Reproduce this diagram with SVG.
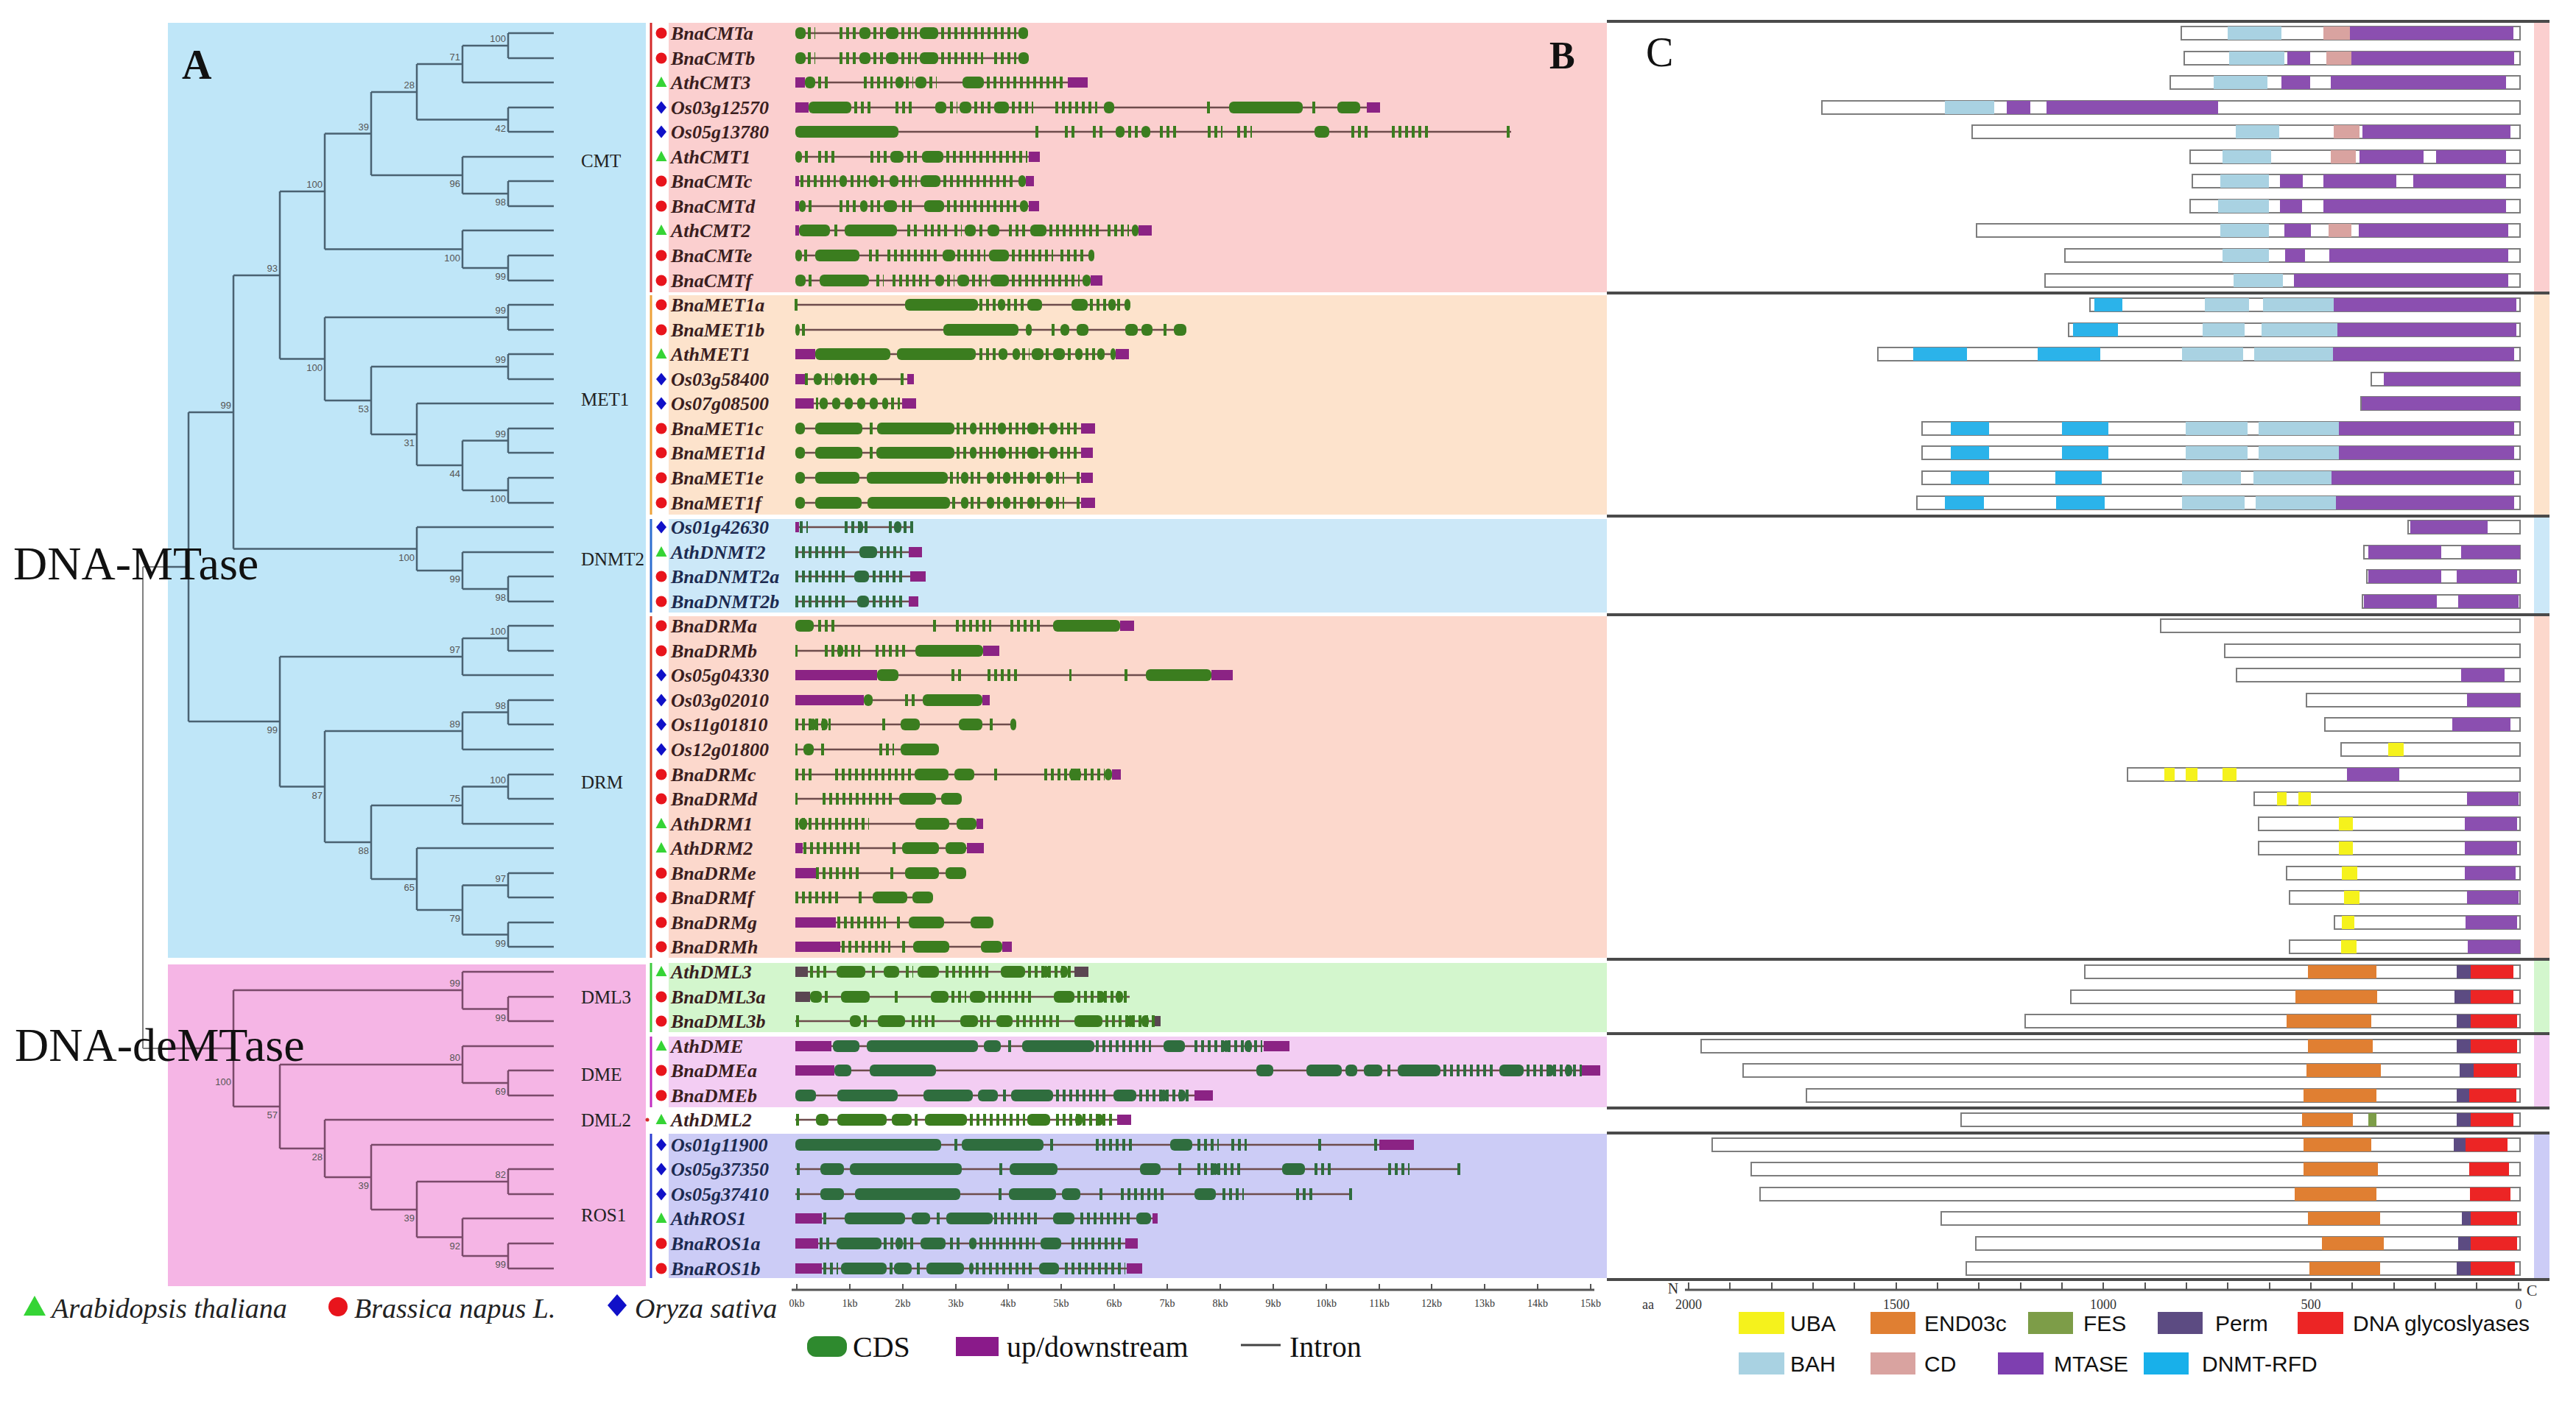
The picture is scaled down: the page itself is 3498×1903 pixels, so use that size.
<svg xmlns="http://www.w3.org/2000/svg" width="3498" height="1903" viewBox="0 0 3498 1903">
<style>
text{font-family:"Liberation Serif","Times New Roman",serif}
.tr{fill:none;stroke:#4a6272;stroke-width:2.5}
.tp{fill:none;stroke:#7a4a6a;stroke-width:2.5}
.tg{fill:none;stroke:#808080;stroke-width:2}
.bs{font-family:"Liberation Sans",Arial,sans-serif;font-size:13px;fill:#555;text-anchor:end}
.gl{font-size:25px;fill:#222}
.nm{font-style:italic;font-weight:bold;font-size:26px;fill:#3a1e1e}
.nb{fill:#1c2a50}
.gs{color:#3b7d1f}
.gd{color:#2f6d3e}
.gs rect{fill:currentColor}
.gs .u{fill:#8b2384}
.gs .v{fill:#5b4652}
.gs .i{stroke:#6e4c4c;stroke-width:2.5}
.gs .t{fill:none;stroke:currentColor;stroke-width:16;stroke-dasharray:4 5}
.pb{fill:#fff;stroke:#7d7d7d;stroke-width:2}
.MT{fill:#8b4fb0}.BAH{fill:#a9d2e2}.CD{fill:#d9a3a0}.RFD{fill:#2bb3ea}.UBA{fill:#f5f21c}.END{fill:#e07f32}.FES{fill:#7d9d48}.PRM{fill:#5c4b82}.DG{fill:#ec2525}
.sep{stroke:#4a4a4a;stroke-width:4}
.ax{stroke:#555;stroke-width:3}
.tk{stroke:#555;stroke-width:2}
.al{font-size:14px;fill:#333;text-anchor:middle}
.ac{font-size:18px;fill:#333;text-anchor:middle}
.lc{font-family:"Liberation Sans",Arial,sans-serif;font-size:30px;fill:#111}
.lb{font-size:40px;fill:#111}
.la{font-size:38px;font-style:italic;fill:#222}
</style>
<defs>
<circle id="mB" r="7.5" fill="#e8141c"/>
<path id="mA" d="M0-8L7.5 6H-7.5Z" fill="#35d435"/>
<path id="mO" d="M0-8.5L7 0 0 8.5-7 0Z" fill="#1010c8"/>
</defs>
<rect width="3498" height="1903" fill="#fff"/>
<!-- panel A backgrounds -->
<rect x="228" y="31" width="649" height="1270" fill="#bfe6f8"/>
<rect x="228" y="1310" width="649" height="437" fill="#f5b5e5"/>
<!-- panel B bands -->
<g id="bands">
<rect x="908" y="31" width="1274" height="366" fill="#fbcfcf"/>
<rect x="908" y="401" width="1274" height="298" fill="#fde3cc"/>
<rect x="908" y="705" width="1274" height="127" fill="#cce8f8"/>
<rect x="908" y="837" width="1274" height="464" fill="#fcd8cc"/>
<rect x="908" y="1308" width="1274" height="94" fill="#d3f6cd"/>
<rect x="908" y="1408" width="1274" height="96" fill="#f3cdf3"/>
<rect x="908" y="1540" width="1274" height="196" fill="#ccccf6"/>
<line x1="884" y1="31" x2="884" y2="397" stroke="#d42a2a" stroke-width="3"/>
<line x1="884" y1="401" x2="884" y2="699" stroke="#eda23a" stroke-width="3"/>
<line x1="884" y1="705" x2="884" y2="832" stroke="#2e6fd0" stroke-width="3"/>
<line x1="884" y1="837" x2="884" y2="1301" stroke="#d8452a" stroke-width="3"/>
<line x1="884" y1="1308" x2="884" y2="1402" stroke="#3fca3f" stroke-width="3"/>
<line x1="884" y1="1408" x2="884" y2="1504" stroke="#c22ec2" stroke-width="3"/>
<circle cx="879" cy="1521" r="2.5" fill="#d42a2a"/>
<line x1="884" y1="1540" x2="884" y2="1736" stroke="#2c3fd0" stroke-width="3"/>
</g>
<!-- panel C strips and separators -->
<g id="c-frame">
<rect x="3441" y="31" width="21" height="365" fill="#fbcfcf"/>
<rect x="3441" y="400" width="21" height="299" fill="#fde3cc"/>
<rect x="3441" y="703" width="21" height="130" fill="#cce8f8"/>
<rect x="3441" y="837" width="21" height="464" fill="#fcd8cc"/>
<rect x="3441" y="1305" width="21" height="97" fill="#d3f6cd"/>
<rect x="3441" y="1406" width="21" height="97" fill="#f3cdf3"/>
<rect x="3441" y="1541" width="21" height="195" fill="#ccccf6"/>
<line class="sep" x1="2182" y1="29" x2="3462" y2="29"/>
<line class="sep" x1="2182" y1="398" x2="3462" y2="398"/>
<line class="sep" x1="2182" y1="701" x2="3462" y2="701"/>
<line class="sep" x1="2182" y1="835" x2="3462" y2="835"/>
<line class="sep" x1="2182" y1="1303" x2="3462" y2="1303"/>
<line class="sep" x1="2182" y1="1404" x2="3462" y2="1404"/>
<line class="sep" x1="2182" y1="1505" x2="3462" y2="1505"/>
<line class="sep" x1="2182" y1="1539" x2="3462" y2="1539"/>
<line class="sep" x1="2182" y1="1738" x2="3462" y2="1738"/>
</g>
<!-- tree connectors -->
<g id="connectors">
<path class="tg" d="M194 770V1424M194 770H256M194 1424H228"/>
<path class="tr" d="M690 45V79M690 45H752M690 79H752M628 62V112M628 62H690M628 112H752M690 146V179M690 146H752M690 179H752M566 87V162.5M566 87H628M566 162.5H690M690 246V280M690 246H752M690 280H752M628 213V263M628 213H752M628 263H690M504 125V238M504 125H566M504 238H628M690 347V381M690 347H752M690 381H752M628 313V364M628 313H752M628 364H690M441 181.5V338.5M441 181.5H504M441 338.5H628M690 414V448M690 414H752M690 448H752M690 481V515M690 481H752M690 515H752M690 582V615M690 582H752M690 615H752M690 649V683M690 649H752M690 683H752M628 598.5V666M628 598.5H690M628 666H690M566 548V632M566 548H752M566 632H628M504 498V590M504 498H690M504 590H566M441 431V544M441 431H690M441 544H504M380 260V487.5M380 260H441M380 487.5H441M690 783V817M690 783H752M690 817H752M628 750V800M628 750H752M628 800H690M566 716V775M566 716H752M566 775H628M317 374V745.5M317 374H380M317 745.5H566M690 850V884M690 850H752M690 884H752M628 867V917M628 867H690M628 917H752M690 951V984M690 951H752M690 984H752M628 967.5V1018M628 967.5H690M628 1018H752M690 1052V1085M690 1052H752M690 1085H752M628 1068.5V1119M628 1068.5H690M628 1119H752M690 1186V1219M690 1186H752M690 1219H752M690 1253V1286M690 1253H752M690 1286H752M628 1202.5V1269.5M628 1202.5H690M628 1269.5H690M566 1152V1236M566 1152H752M566 1236H628M504 1094V1194M504 1094H628M504 1194H566M441 993V1144M441 993H628M441 1144H504M380 892V1068.5M380 892H628M380 1068.5H441M256 560V980M256 560H317M256 980H380M228 770H256"/>
<path class="tp" d="M690 1354V1387M690 1354H752M690 1387H752M628 1320V1370.5M628 1320H752M628 1370.5H690M690 1454V1488M690 1454H752M690 1488H752M628 1421V1471M628 1421H752M628 1471H690M690 1588V1622M690 1588H752M690 1622H752M690 1689V1723M690 1689H752M690 1723H752M628 1655V1706M628 1655H752M628 1706H690M566 1605V1680.5M566 1605H690M566 1680.5H628M504 1555V1643M504 1555H752M504 1643H566M441 1521V1599M441 1521H752M441 1599H504M380 1446V1560M380 1446H628M380 1560H441M317 1345V1503M317 1345H628M317 1503H380M228 1424H317"/>
</g>
<!-- bootstrap values -->
<g id="bootstrap">
<text class="bs" x="687" y="57">100</text><text class="bs" x="625" y="82">71</text><text class="bs" x="687" y="179">42</text><text class="bs" x="563" y="120">28</text><text class="bs" x="687" y="279">98</text><text class="bs" x="625" y="254">96</text><text class="bs" x="501" y="176.5">39</text><text class="bs" x="687" y="380">99</text><text class="bs" x="625" y="354.5">100</text><text class="bs" x="438" y="255">100</text>
<text class="bs" x="687" y="426">99</text><text class="bs" x="687" y="493">99</text><text class="bs" x="687" y="593.5">99</text><text class="bs" x="687" y="682">100</text><text class="bs" x="625" y="648">44</text><text class="bs" x="563" y="606">31</text><text class="bs" x="501" y="560">53</text><text class="bs" x="438" y="503.5">100</text><text class="bs" x="377" y="369">93</text>
<text class="bs" x="687" y="816">98</text><text class="bs" x="625" y="791">99</text><text class="bs" x="563" y="761.5">100</text><text class="bs" x="314" y="555">99</text>
<text class="bs" x="687" y="862">100</text><text class="bs" x="625" y="887">97</text><text class="bs" x="687" y="962.5">98</text><text class="bs" x="625" y="988">89</text><text class="bs" x="687" y="1063.5">100</text><text class="bs" x="625" y="1089">75</text><text class="bs" x="687" y="1197.5">97</text><text class="bs" x="687" y="1285.5">99</text><text class="bs" x="625" y="1252">79</text><text class="bs" x="563" y="1210">65</text><text class="bs" x="501" y="1160">88</text><text class="bs" x="438" y="1084.5">87</text><text class="bs" x="377" y="996">99</text>
<text class="bs" x="687" y="1386.5">99</text><text class="bs" x="625" y="1340">99</text><text class="bs" x="687" y="1487">69</text><text class="bs" x="625" y="1441">80</text><text class="bs" x="687" y="1600">82</text><text class="bs" x="687" y="1722">99</text><text class="bs" x="625" y="1696.5">92</text><text class="bs" x="563" y="1659">39</text><text class="bs" x="501" y="1615">39</text><text class="bs" x="438" y="1576">28</text><text class="bs" x="377" y="1519">57</text><text class="bs" x="314" y="1474">100</text>
</g>
<!-- group labels -->
<g id="groups">
<text class="gl" x="789" y="227">CMT</text>
<text class="gl" x="789" y="551">MET1</text>
<text class="gl" x="789" y="768">DNMT2</text>
<text class="gl" x="789" y="1071">DRM</text>
<text class="gl" x="789" y="1363">DML3</text>
<text class="gl" x="789" y="1468">DME</text>
<text class="gl" x="789" y="1530">DML2</text>
<text class="gl" x="789" y="1659">ROS1</text>
</g>
<text x="18" y="787" font-size="64" fill="#111">DNA-MTase</text>
<text x="20" y="1441" font-size="64" fill="#111">DNA-deMTase</text>
<text x="247" y="107" font-size="56" font-weight="bold" fill="#111">A</text>
<text x="2104" y="93" font-size="52" font-weight="bold" fill="#111">B</text>
<text x="2235" y="90" font-size="56" fill="#111">C</text>

<!-- gene rows (panel B) -->
<g id="gene-BnaCMTa" transform="translate(0,45)"><use href="#mB" x="898"/><text class="nm" x="911" y="9">BnaCMTa</text><g class="gs"><line class="i" x1="1080" x2="1396"/><path class="t" d="M1097 0H1107M1140 0H1165M1186 0H1200M1224 0H1245M1278 0H1380"/><rect x="1080" y="-8" width="14" height="16" rx="6"/><rect x="1167" y="-8" width="15" height="16" rx="6"/><rect x="1203" y="-8" width="17" height="16" rx="6"/><rect x="1249" y="-8" width="25" height="16" rx="6"/><rect x="1383" y="-8" width="13" height="16" rx="6"/></g></g>
<g id="gene-BnaCMTb" transform="translate(0,79)"><use href="#mB" x="898"/><text class="nm" x="911" y="9">BnaCMTb</text><g class="gs"><line class="i" x1="1080" x2="1397"/><path class="t" d="M1097 0H1107M1140 0H1165M1186 0H1200M1224 0H1245M1278 0H1335M1350 0H1380"/><rect x="1080" y="-8" width="14" height="16" rx="6"/><rect x="1167" y="-8" width="15" height="16" rx="6"/><rect x="1203" y="-8" width="17" height="16" rx="6"/><rect x="1249" y="-8" width="25" height="16" rx="6"/><rect x="1383" y="-8" width="14" height="16" rx="6"/></g></g>
<g id="gene-AthCMT3" transform="translate(0,112)"><use href="#mA" x="898"/><text class="nm" x="911" y="9">AthCMT3</text><g class="gs"><line class="i" x1="1080" x2="1477"/><path class="t" d="M1111 0H1124M1173 0H1212M1230 0H1240M1262 0H1272M1340 0H1448"/><rect x="1093" y="-8" width="14" height="16" rx="6"/><rect x="1216" y="-8" width="11" height="16" rx="6"/><rect x="1243" y="-8" width="15" height="16" rx="6"/><rect x="1307" y="-8" width="29" height="16" rx="6"/><rect class="u" x="1080" y="-7" width="13" height="14"/><rect class="u" x="1450" y="-7" width="27" height="14"/></g></g>
<g id="gene-Os03g12570" transform="translate(0,146)"><use href="#mO" x="898"/><text class="nm" x="911" y="9">Os03g12570</text><g class="gs"><line class="i" x1="1080" x2="1874"/><path class="t" d="M1160 0H1182M1216 0H1240M1290 0H1300M1323 0H1345M1374 0H1403M1433 0H1490M1639 0H1644M1782 0H1787"/><rect x="1098" y="-8" width="58" height="16" rx="6"/><rect x="1270" y="-8" width="15" height="16" rx="6"/><rect x="1303" y="-8" width="16" height="16" rx="6"/><rect x="1350" y="-8" width="20" height="16" rx="6"/><rect x="1499" y="-8" width="14" height="16" rx="6"/><rect x="1669" y="-8" width="100" height="16" rx="6"/><rect x="1816" y="-8" width="31" height="16" rx="6"/><rect class="u" x="1080" y="-7" width="18" height="14"/><rect class="u" x="1856" y="-7" width="18" height="14"/></g></g>
<g id="gene-Os05g13780" transform="translate(0,179)"><use href="#mO" x="898"/><text class="nm" x="911" y="9">Os05g13780</text><g class="gs"><line class="i" x1="1080" x2="2052"/><path class="t" d="M1406 0H1410M1446 0H1462M1484 0H1500M1532 0H1545M1575 0H1600M1640 0H1660M1680 0H1700M1835 0H1860M1890 0H1940M2046 0H2052"/><rect x="1080" y="-8" width="140" height="16" rx="6"/><rect x="1515" y="-8" width="12" height="16" rx="6"/><rect x="1550" y="-8" width="12" height="16" rx="6"/><rect x="1785" y="-8" width="20" height="16" rx="6"/></g></g>
<g id="gene-AthCMT1" transform="translate(0,213)"><use href="#mA" x="898"/><text class="nm" x="911" y="9">AthCMT1</text><g class="gs"><line class="i" x1="1080" x2="1412"/><path class="t" d="M1093 0H1102M1111 0H1138M1182 0H1205M1232 0H1245M1285 0H1395"/><rect x="1080" y="-8" width="9" height="16" rx="6"/><rect x="1209" y="-8" width="18" height="16" rx="6"/><rect x="1252" y="-8" width="29" height="16" rx="6"/><rect class="u" x="1397" y="-7" width="15" height="14"/></g></g>
<g id="gene-BnaCMTc" transform="translate(0,246)"><use href="#mB" x="898"/><text class="nm" x="911" y="9">BnaCMTc</text><g class="gs"><line class="i" x1="1080" x2="1404"/><path class="t" d="M1087 0H1135M1155 0H1176M1196 0H1204M1225 0H1245M1281 0H1380"/><rect x="1140" y="-8" width="10" height="16" rx="6"/><rect x="1180" y="-8" width="12" height="16" rx="6"/><rect x="1208" y="-8" width="12" height="16" rx="6"/><rect x="1250" y="-8" width="27" height="16" rx="6"/><rect x="1383" y="-8" width="10" height="16" rx="6"/><rect class="u" x="1080" y="-7" width="5" height="14"/><rect class="u" x="1393" y="-7" width="11" height="14"/></g></g>
<g id="gene-BnaCMTd" transform="translate(0,280)"><use href="#mB" x="898"/><text class="nm" x="911" y="9">BnaCMTd</text><g class="gs"><line class="i" x1="1080" x2="1411"/><path class="t" d="M1098 0H1105M1140 0H1164M1182 0H1196M1225 0H1240M1286 0H1382"/><rect x="1085" y="-8" width="9" height="16" rx="6"/><rect x="1168" y="-8" width="10" height="16" rx="6"/><rect x="1200" y="-8" width="18" height="16" rx="6"/><rect x="1255" y="-8" width="27" height="16" rx="6"/><rect x="1385" y="-8" width="11" height="16" rx="6"/><rect class="u" x="1080" y="-7" width="5" height="14"/><rect class="u" x="1397" y="-7" width="14" height="14"/></g></g>
<g id="gene-AthCMT2" transform="translate(0,313)"><use href="#mA" x="898"/><text class="nm" x="911" y="9">AthCMT2</text><g class="gs"><line class="i" x1="1080" x2="1564"/><path class="t" d="M1133 0H1138M1232 0H1245M1255 0H1290M1296 0H1306M1330 0H1337M1370 0H1395M1425 0H1495M1504 0H1533"/><rect x="1085" y="-8" width="42" height="16" rx="6"/><rect x="1147" y="-8" width="71" height="16" rx="6"/><rect x="1310" y="-8" width="15" height="16" rx="6"/><rect x="1341" y="-8" width="16" height="16" rx="6"/><rect x="1399" y="-8" width="22" height="16" rx="6"/><rect x="1537" y="-8" width="9" height="16" rx="6"/><rect class="u" x="1080" y="-7" width="5" height="14"/><rect class="u" x="1546" y="-7" width="18" height="14"/></g></g>
<g id="gene-BnaCMTe" transform="translate(0,347)"><use href="#mB" x="898"/><text class="nm" x="911" y="9">BnaCMTe</text><g class="gs"><line class="i" x1="1080" x2="1486"/><path class="t" d="M1092 0H1100M1180 0H1195M1205 0H1275M1300 0H1338M1374 0H1430M1440 0H1475"/><rect x="1080" y="-8" width="9" height="16" rx="6"/><rect x="1107" y="-8" width="60" height="16" rx="6"/><rect x="1280" y="-8" width="17" height="16" rx="6"/><rect x="1343" y="-8" width="27" height="16" rx="6"/><rect x="1478" y="-8" width="8" height="16" rx="6"/></g></g>
<g id="gene-BnaCMTf" transform="translate(0,381)"><use href="#mB" x="898"/><text class="nm" x="911" y="9">BnaCMTf</text><g class="gs"><line class="i" x1="1080" x2="1497"/><path class="t" d="M1098 0H1102M1190 0H1200M1212 0H1265M1286 0H1296M1320 0H1340M1374 0H1466"/><rect x="1080" y="-8" width="14" height="16" rx="6"/><rect x="1113" y="-8" width="67" height="16" rx="6"/><rect x="1270" y="-8" width="12" height="16" rx="6"/><rect x="1300" y="-8" width="16" height="16" rx="6"/><rect x="1345" y="-8" width="25" height="16" rx="6"/><rect x="1470" y="-8" width="11" height="16" rx="6"/><rect class="u" x="1481" y="-7" width="16" height="14"/></g></g>
<g id="gene-BnaMET1a" transform="translate(0,414)"><use href="#mB" x="898"/><text class="nm" x="911" y="9">BnaMET1a</text><g class="gs"><line class="i" x1="1080" x2="1535"/><path class="t" d="M1079 0H1083M1330 0H1352M1368 0H1392M1480 0H1502M1517 0H1524"/><rect x="1229" y="-8" width="99" height="16" rx="6"/><rect x="1355" y="-8" width="10" height="16" rx="6"/><rect x="1395" y="-8" width="20" height="16" rx="6"/><rect x="1455" y="-8" width="22" height="16" rx="6"/><rect x="1505" y="-8" width="10" height="16" rx="6"/><rect x="1527" y="-8" width="8" height="16" rx="6"/></g></g>
<g id="gene-BnaMET1b" transform="translate(0,448)"><use href="#mB" x="898"/><text class="nm" x="911" y="9">BnaMET1b</text><g class="gs"><line class="i" x1="1080" x2="1611"/><path class="t" d="M1089 0H1093M1428 0H1437M1580 0H1584"/><rect x="1080" y="-8" width="6" height="16" rx="6"/><rect x="1281" y="-8" width="102" height="16" rx="6"/><rect x="1393" y="-8" width="8" height="16" rx="6"/><rect x="1440" y="-8" width="12" height="16" rx="6"/><rect x="1462" y="-8" width="16" height="16" rx="6"/><rect x="1528" y="-8" width="17" height="16" rx="6"/><rect x="1550" y="-8" width="15" height="16" rx="6"/><rect x="1594" y="-8" width="17" height="16" rx="6"/></g></g>
<g id="gene-AthMET1" transform="translate(0,481)"><use href="#mA" x="898"/><text class="nm" x="911" y="9">AthMET1</text><g class="gs"><line class="i" x1="1080" x2="1533"/><path class="t" d="M1330 0H1352M1388 0H1398M1420 0H1428M1450 0H1457M1474 0H1487"/><rect x="1107" y="-8" width="102" height="16" rx="6"/><rect x="1218" y="-8" width="107" height="16" rx="6"/><rect x="1356" y="-8" width="12" height="16" rx="6"/><rect x="1375" y="-8" width="10" height="16" rx="6"/><rect x="1401" y="-8" width="16" height="16" rx="6"/><rect x="1430" y="-8" width="16" height="16" rx="6"/><rect x="1460" y="-8" width="10" height="16" rx="6"/><rect x="1490" y="-8" width="10" height="16" rx="6"/><rect x="1508" y="-8" width="7" height="16" rx="6"/><rect class="u" x="1080" y="-7" width="27" height="14"/><rect class="u" x="1515" y="-7" width="18" height="14"/></g></g>
<g id="gene-Os03g58400" transform="translate(0,515)"><use href="#mO" x="898"/><text class="nm" x="911" y="9">Os03g58400</text><g class="gs"><line class="i" x1="1080" x2="1241"/><path class="t" d="M1093 0H1102M1120 0H1130M1148 0H1152M1170 0H1178M1223 0H1230"/><rect x="1105" y="-8" width="11" height="16" rx="6"/><rect x="1133" y="-8" width="11" height="16" rx="6"/><rect x="1155" y="-8" width="11" height="16" rx="6"/><rect x="1181" y="-8" width="10" height="16" rx="6"/><rect class="u" x="1080" y="-7" width="13" height="14"/><rect class="u" x="1232" y="-7" width="9" height="14"/></g></g>
<g id="gene-Os07g08500" transform="translate(0,548)"><use href="#mO" x="898"/><text class="nm" x="911" y="9">Os07g08500</text><g class="gs"><line class="i" x1="1080" x2="1244"/><path class="t" d="M1108 0H1111M1210 0H1222"/><rect x="1113" y="-8" width="11" height="16" rx="6"/><rect x="1130" y="-8" width="11" height="16" rx="6"/><rect x="1147" y="-8" width="11" height="16" rx="6"/><rect x="1164" y="-8" width="11" height="16" rx="6"/><rect x="1181" y="-8" width="11" height="16" rx="6"/><rect x="1198" y="-8" width="8" height="16" rx="6"/><rect class="u" x="1080" y="-7" width="25" height="14"/><rect class="u" x="1225" y="-7" width="19" height="14"/></g></g>
<g id="gene-BnaMET1c" transform="translate(0,582)"><use href="#mB" x="898"/><text class="nm" x="911" y="9">BnaMET1c</text><g class="gs"><line class="i" x1="1080" x2="1487"/><path class="t" d="M1181 0H1185M1299 0H1314M1330 0H1352M1370 0H1392M1413 0H1422M1440 0H1465"/><rect x="1080" y="-8" width="13" height="16" rx="6"/><rect x="1107" y="-8" width="64" height="16" rx="6"/><rect x="1191" y="-8" width="105" height="16" rx="6"/><rect x="1317" y="-8" width="9" height="16" rx="6"/><rect x="1355" y="-8" width="11" height="16" rx="6"/><rect x="1395" y="-8" width="15" height="16" rx="6"/><rect x="1425" y="-8" width="11" height="16" rx="6"/><rect class="u" x="1468" y="-7" width="19" height="14"/></g></g>
<g id="gene-BnaMET1d" transform="translate(0,615)"><use href="#mB" x="898"/><text class="nm" x="911" y="9">BnaMET1d</text><g class="gs"><line class="i" x1="1080" x2="1484"/><path class="t" d="M1181 0H1185M1299 0H1314M1330 0H1352M1370 0H1392M1413 0H1422M1440 0H1465"/><rect x="1080" y="-8" width="13" height="16" rx="6"/><rect x="1107" y="-8" width="64" height="16" rx="6"/><rect x="1190" y="-8" width="106" height="16" rx="6"/><rect x="1317" y="-8" width="9" height="16" rx="6"/><rect x="1355" y="-8" width="11" height="16" rx="6"/><rect x="1395" y="-8" width="15" height="16" rx="6"/><rect x="1425" y="-8" width="11" height="16" rx="6"/><rect class="u" x="1468" y="-7" width="16" height="14"/></g></g>
<g id="gene-BnaMET1e" transform="translate(0,649)"><use href="#mB" x="898"/><text class="nm" x="911" y="9">BnaMET1e</text><g class="gs"><line class="i" x1="1080" x2="1484"/><path class="t" d="M1290 0H1302M1318 0H1336M1354 0H1358M1376 0H1392M1408 0H1416M1434 0H1445M1462 0H1466"/><rect x="1080" y="-8" width="13" height="16" rx="6"/><rect x="1107" y="-8" width="60" height="16" rx="6"/><rect x="1177" y="-8" width="110" height="16" rx="6"/><rect x="1305" y="-8" width="10" height="16" rx="6"/><rect x="1340" y="-8" width="10" height="16" rx="6"/><rect x="1362" y="-8" width="10" height="16" rx="6"/><rect x="1395" y="-8" width="10" height="16" rx="6"/><rect x="1420" y="-8" width="10" height="16" rx="6"/><rect class="u" x="1468" y="-7" width="16" height="14"/></g></g>
<g id="gene-BnaMET1f" transform="translate(0,683)"><use href="#mB" x="898"/><text class="nm" x="911" y="9">BnaMET1f</text><g class="gs"><line class="i" x1="1080" x2="1487"/><path class="t" d="M1293 0H1302M1318 0H1336M1354 0H1358M1376 0H1392M1408 0H1416M1434 0H1445M1462 0H1466"/><rect x="1080" y="-8" width="13" height="16" rx="6"/><rect x="1107" y="-8" width="63" height="16" rx="6"/><rect x="1178" y="-8" width="112" height="16" rx="6"/><rect x="1305" y="-8" width="10" height="16" rx="6"/><rect x="1340" y="-8" width="10" height="16" rx="6"/><rect x="1362" y="-8" width="10" height="16" rx="6"/><rect x="1395" y="-8" width="10" height="16" rx="6"/><rect x="1420" y="-8" width="10" height="16" rx="6"/><rect class="u" x="1468" y="-7" width="19" height="14"/></g></g>
<g id="gene-Os01g42630" transform="translate(0,716)"><use href="#mO" x="898"/><text class="nm nb" x="911" y="9">Os01g42630</text><g class="gs gd"><line class="i" x1="1080" x2="1240"/><path class="t" d="M1086 0H1097M1147 0H1180M1207 0H1212M1227 0H1240"/><rect x="1165" y="-8" width="7" height="16" rx="6"/><rect x="1214" y="-8" width="10" height="16" rx="6"/><rect class="u" x="1080" y="-7" width="5" height="14"/></g></g>
<g id="gene-AthDNMT2" transform="translate(0,750)"><use href="#mA" x="898"/><text class="nm nb" x="911" y="9">AthDNMT2</text><g class="gs gd"><line class="i" x1="1080" x2="1252"/><path class="t" d="M1080 0H1148M1195 0H1225"/><rect x="1167" y="-8" width="24" height="16" rx="6"/><rect class="u" x="1234" y="-7" width="18" height="14"/></g></g>
<g id="gene-BnaDNMT2a" transform="translate(0,783)"><use href="#mB" x="898"/><text class="nm nb" x="911" y="9">BnaDNMT2a</text><g class="gs gd"><line class="i" x1="1080" x2="1257"/><path class="t" d="M1080 0H1150M1185 0H1225"/><rect x="1160" y="-8" width="20" height="16" rx="6"/><rect class="u" x="1236" y="-7" width="21" height="14"/></g></g>
<g id="gene-BnaDNMT2b" transform="translate(0,817)"><use href="#mB" x="898"/><text class="nm nb" x="911" y="9">BnaDNMT2b</text><g class="gs gd"><line class="i" x1="1080" x2="1247"/><path class="t" d="M1080 0H1147M1185 0H1225"/><rect x="1164" y="-8" width="16" height="16" rx="6"/><rect class="u" x="1234" y="-7" width="13" height="14"/></g></g>
<g id="gene-BnaDRMa" transform="translate(0,850)"><use href="#mB" x="898"/><text class="nm" x="911" y="9">BnaDRMa</text><g class="gs"><line class="i" x1="1080" x2="1540"/><path class="t" d="M1111 0H1137M1267 0H1271M1298 0H1346M1372 0H1415"/><rect x="1080" y="-8" width="25" height="16" rx="6"/><rect x="1430" y="-8" width="91" height="16" rx="6"/><rect class="u" x="1521" y="-7" width="19" height="14"/></g></g>
<g id="gene-BnaDRMb" transform="translate(0,884)"><use href="#mB" x="898"/><text class="nm" x="911" y="9">BnaDRMb</text><g class="gs"><line class="i" x1="1080" x2="1357"/><path class="t" d="M1080 0H1083M1120 0H1168M1189 0H1229"/><rect x="1137" y="-8" width="8" height="16" rx="6"/><rect x="1243" y="-8" width="92" height="16" rx="6"/><rect class="u" x="1335" y="-7" width="22" height="14"/></g></g>
<g id="gene-Os05g04330" transform="translate(0,917)"><use href="#mO" x="898"/><text class="nm" x="911" y="9">Os05g04330</text><g class="gs"><line class="i" x1="1080" x2="1674"/><path class="t" d="M1292 0H1309M1341 0H1381M1452 0H1455M1527 0H1531"/><rect x="1191" y="-8" width="29" height="16" rx="6"/><rect x="1556" y="-8" width="89" height="16" rx="6"/><rect class="u" x="1080" y="-7" width="111" height="14"/><rect class="u" x="1645" y="-7" width="29" height="14"/></g></g>
<g id="gene-Os03g02010" transform="translate(0,951)"><use href="#mO" x="898"/><text class="nm" x="911" y="9">Os03g02010</text><g class="gs"><line class="i" x1="1080" x2="1344"/><path class="t" d="M1229 0H1246"/><rect x="1173" y="-8" width="12" height="16" rx="6"/><rect x="1253" y="-8" width="81" height="16" rx="6"/><rect class="u" x="1080" y="-7" width="93" height="14"/><rect class="u" x="1334" y="-7" width="10" height="14"/></g></g>
<g id="gene-Os11g01810" transform="translate(0,984)"><use href="#mO" x="898"/><text class="nm" x="911" y="9">Os11g01810</text><g class="gs"><line class="i" x1="1080" x2="1380"/><path class="t" d="M1080 0H1128M1198 0H1202M1344 0H1348"/><rect x="1100" y="-8" width="8" height="16" rx="6"/><rect x="1115" y="-8" width="9" height="16" rx="6"/><rect x="1223" y="-8" width="26" height="16" rx="6"/><rect x="1302" y="-8" width="32" height="16" rx="6"/><rect x="1372" y="-8" width="8" height="16" rx="6"/></g></g>
<g id="gene-Os12g01800" transform="translate(0,1018)"><use href="#mO" x="898"/><text class="nm" x="911" y="9">Os12g01800</text><g class="gs"><line class="i" x1="1080" x2="1275"/><path class="t" d="M1080 0H1083M1115 0H1119M1194 0H1214"/><rect x="1091" y="-8" width="14" height="16" rx="6"/><rect x="1223" y="-8" width="52" height="16" rx="6"/></g></g>
<g id="gene-BnaDRMc" transform="translate(0,1052)"><use href="#mB" x="898"/><text class="nm" x="911" y="9">BnaDRMc</text><g class="gs"><line class="i" x1="1080" x2="1522"/><path class="t" d="M1080 0H1105M1134 0H1237M1350 0H1354M1418 0H1500"/><rect x="1242" y="-8" width="46" height="16" rx="6"/><rect x="1296" y="-8" width="27" height="16" rx="6"/><rect x="1452" y="-8" width="16" height="16" rx="6"/><rect x="1500" y="-8" width="10" height="16" rx="6"/><rect class="u" x="1510" y="-7" width="12" height="14"/></g></g>
<g id="gene-BnaDRMd" transform="translate(0,1085)"><use href="#mB" x="898"/><text class="nm" x="911" y="9">BnaDRMd</text><g class="gs"><line class="i" x1="1080" x2="1306"/><path class="t" d="M1080 0H1083M1117 0H1214"/><rect x="1221" y="-8" width="50" height="16" rx="6"/><rect x="1278" y="-8" width="28" height="16" rx="6"/></g></g>
<g id="gene-AthDRM1" transform="translate(0,1119)"><use href="#mA" x="898"/><text class="nm" x="911" y="9">AthDRM1</text><g class="gs"><line class="i" x1="1080" x2="1335"/><path class="t" d="M1080 0H1180"/><rect x="1085" y="-8" width="11" height="16" rx="6"/><rect x="1243" y="-8" width="46" height="16" rx="6"/><rect x="1299" y="-8" width="27" height="16" rx="6"/><rect class="u" x="1326" y="-7" width="9" height="14"/></g></g>
<g id="gene-AthDRM2" transform="translate(0,1152)"><use href="#mA" x="898"/><text class="nm" x="911" y="9">AthDRM2</text><g class="gs"><line class="i" x1="1080" x2="1336"/><path class="t" d="M1091 0H1171M1212 0H1216"/><rect x="1225" y="-8" width="50" height="16" rx="6"/><rect x="1284" y="-8" width="28" height="16" rx="6"/><rect class="u" x="1080" y="-7" width="10" height="14"/><rect class="u" x="1313" y="-7" width="23" height="14"/></g></g>
<g id="gene-BnaDRMe" transform="translate(0,1186)"><use href="#mB" x="898"/><text class="nm" x="911" y="9">BnaDRMe</text><g class="gs"><line class="i" x1="1080" x2="1312"/><path class="t" d="M1108 0H1171M1209 0H1213"/><rect x="1229" y="-8" width="46" height="16" rx="6"/><rect x="1284" y="-8" width="28" height="16" rx="6"/><rect class="u" x="1080" y="-7" width="28" height="14"/></g></g>
<g id="gene-BnaDRMf" transform="translate(0,1219)"><use href="#mB" x="898"/><text class="nm" x="911" y="9">BnaDRMf</text><g class="gs"><line class="i" x1="1080" x2="1267"/><path class="t" d="M1080 0H1140M1166 0H1170"/><rect x="1185" y="-8" width="47" height="16" rx="6"/><rect x="1239" y="-8" width="28" height="16" rx="6"/></g></g>
<g id="gene-BnaDRMg" transform="translate(0,1253)"><use href="#mB" x="898"/><text class="nm" x="911" y="9">BnaDRMg</text><g class="gs"><line class="i" x1="1080" x2="1349"/><path class="t" d="M1137 0H1203M1218 0H1222"/><rect x="1234" y="-8" width="48" height="16" rx="6"/><rect x="1318" y="-8" width="31" height="16" rx="6"/><rect class="u" x="1080" y="-7" width="55" height="14"/></g></g>
<g id="gene-BnaDRMh" transform="translate(0,1286)"><use href="#mB" x="898"/><text class="nm" x="911" y="9">BnaDRMh</text><g class="gs"><line class="i" x1="1080" x2="1374"/><path class="t" d="M1143 0H1209M1225 0H1229"/><rect x="1240" y="-8" width="49" height="16" rx="6"/><rect x="1332" y="-8" width="29" height="16" rx="6"/><rect class="u" x="1080" y="-7" width="61" height="14"/><rect class="u" x="1361" y="-7" width="13" height="14"/></g></g>
<g id="gene-AthDML3" transform="translate(0,1320)"><use href="#mA" x="898"/><text class="nm" x="911" y="9">AthDML3</text><g class="gs"><line class="i" x1="1080" x2="1478"/><path class="t" d="M1100 0H1125M1184 0H1188M1230 0H1240M1284 0H1346M1396 0H1455"/><rect x="1136" y="-8" width="39" height="16" rx="6"/><rect x="1200" y="-8" width="21" height="16" rx="6"/><rect x="1246" y="-8" width="29" height="16" rx="6"/><rect x="1359" y="-8" width="33" height="16" rx="6"/><rect x="1415" y="-8" width="10" height="16" rx="6"/><rect x="1440" y="-8" width="10" height="16" rx="6"/><rect class="v" x="1080" y="-7" width="17" height="14"/><rect class="v" x="1459" y="-7" width="19" height="14"/></g></g>
<g id="gene-BnaDML3a" transform="translate(0,1354)"><use href="#mB" x="898"/><text class="nm" x="911" y="9">BnaDML3a</text><g class="gs"><line class="i" x1="1080" x2="1534"/><path class="t" d="M1120 0H1128M1215 0H1219M1292 0H1312M1342 0H1405M1463 0H1534"/><rect x="1100" y="-8" width="16" height="16" rx="6"/><rect x="1142" y="-8" width="39" height="16" rx="6"/><rect x="1264" y="-8" width="24" height="16" rx="6"/><rect x="1317" y="-8" width="21" height="16" rx="6"/><rect x="1431" y="-8" width="28" height="16" rx="6"/><rect x="1490" y="-8" width="10" height="16" rx="6"/><rect x="1515" y="-8" width="10" height="16" rx="6"/><rect class="v" x="1080" y="-7" width="20" height="14"/></g></g>
<g id="gene-BnaDML3b" transform="translate(0,1387)"><use href="#mB" x="898"/><text class="nm" x="911" y="9">BnaDML3b</text><g class="gs"><line class="i" x1="1080" x2="1576"/><path class="t" d="M1081 0H1085M1173 0H1178M1238 0H1271M1331 0H1349M1380 0H1438M1501 0H1568"/><rect x="1154" y="-8" width="15" height="16" rx="6"/><rect x="1192" y="-8" width="37" height="16" rx="6"/><rect x="1304" y="-8" width="24" height="16" rx="6"/><rect x="1353" y="-8" width="22" height="16" rx="6"/><rect x="1459" y="-8" width="38" height="16" rx="6"/><rect x="1530" y="-8" width="10" height="16" rx="6"/><rect x="1550" y="-8" width="10" height="16" rx="6"/><rect class="v" x="1568" y="-7" width="8" height="14"/></g></g>
<g id="gene-AthDME" transform="translate(0,1421)"><use href="#mA" x="898"/><text class="nm" x="911" y="9">AthDME</text><g class="gs gd"><line class="i" x1="1080" x2="1751"/><path class="t" d="M1369 0H1373M1488 0H1563M1622 0H1714"/><rect x="1131" y="-8" width="36" height="16" rx="6"/><rect x="1177" y="-8" width="151" height="16" rx="6"/><rect x="1336" y="-8" width="23" height="16" rx="6"/><rect x="1388" y="-8" width="98" height="16" rx="6"/><rect x="1580" y="-8" width="29" height="16" rx="6"/><rect x="1660" y="-8" width="10" height="16" rx="6"/><rect x="1690" y="-8" width="10" height="16" rx="6"/><rect class="u" x="1080" y="-7" width="49" height="14"/><rect class="u" x="1716" y="-7" width="35" height="14"/></g></g>
<g id="gene-BnaDMEa" transform="translate(0,1454)"><use href="#mB" x="898"/><text class="nm" x="911" y="9">BnaDMEa</text><g class="gs gd"><line class="i" x1="1080" x2="2173"/><path class="t" d="M1884 0H1888M1960 0H2027M2073 0H2148"/><rect x="1133" y="-8" width="23" height="16" rx="6"/><rect x="1181" y="-8" width="90" height="16" rx="6"/><rect x="1706" y="-8" width="23" height="16" rx="6"/><rect x="1774" y="-8" width="48" height="16" rx="6"/><rect x="1827" y="-8" width="16" height="16" rx="6"/><rect x="1852" y="-8" width="25" height="16" rx="6"/><rect x="1898" y="-8" width="58" height="16" rx="6"/><rect x="2036" y="-8" width="33" height="16" rx="6"/><rect x="2100" y="-8" width="10" height="16" rx="6"/><rect x="2125" y="-8" width="10" height="16" rx="6"/><rect class="u" x="1080" y="-7" width="53" height="14"/><rect class="u" x="2148" y="-7" width="25" height="14"/></g></g>
<g id="gene-BnaDMEb" transform="translate(0,1488)"><use href="#mB" x="898"/><text class="nm" x="911" y="9">BnaDMEb</text><g class="gs gd"><line class="i" x1="1080" x2="1647"/><path class="t" d="M1362 0H1366M1434 0H1505M1547 0H1618"/><rect x="1080" y="-8" width="28" height="16" rx="6"/><rect x="1137" y="-8" width="82" height="16" rx="6"/><rect x="1254" y="-8" width="67" height="16" rx="6"/><rect x="1328" y="-8" width="27" height="16" rx="6"/><rect x="1373" y="-8" width="57" height="16" rx="6"/><rect x="1512" y="-8" width="31" height="16" rx="6"/><rect x="1575" y="-8" width="10" height="16" rx="6"/><rect x="1600" y="-8" width="10" height="16" rx="6"/><rect class="u" x="1622" y="-7" width="25" height="14"/></g></g>
<g id="gene-AthDML2" transform="translate(0,1521)"><use href="#mA" x="898"/><text class="nm" x="911" y="9">AthDML2</text><g class="gs"><line class="i" x1="1080" x2="1536"/><path class="t" d="M1081 0H1085M1242 0H1246M1317 0H1392M1434 0H1513"/><rect x="1108" y="-8" width="17" height="16" rx="6"/><rect x="1137" y="-8" width="67" height="16" rx="6"/><rect x="1211" y="-8" width="27" height="16" rx="6"/><rect x="1256" y="-8" width="57" height="16" rx="6"/><rect x="1395" y="-8" width="31" height="16" rx="6"/><rect x="1460" y="-8" width="10" height="16" rx="6"/><rect x="1488" y="-8" width="10" height="16" rx="6"/><rect class="u" x="1517" y="-7" width="19" height="14"/></g></g>
<g id="gene-Os01g11900" transform="translate(0,1555)"><use href="#mO" x="898"/><text class="nm nb" x="911" y="9">Os01g11900</text><g class="gs gd"><line class="i" x1="1080" x2="1920"/><path class="t" d="M1296 0H1300M1426 0H1430M1488 0H1538M1626 0H1655M1672 0H1693M1790 0H1794M1866 0H1870"/><rect x="1080" y="-8" width="198" height="16" rx="6"/><rect x="1306" y="-8" width="111" height="16" rx="6"/><rect x="1589" y="-8" width="30" height="16" rx="6"/><rect class="u" x="1873" y="-7" width="47" height="14"/></g></g>
<g id="gene-Os05g37350" transform="translate(0,1588)"><use href="#mO" x="898"/><text class="nm nb" x="911" y="9">Os05g37350</text><g class="gs gd"><line class="i" x1="1080" x2="1983"/><path class="t" d="M1082 0H1086M1357 0H1361M1600 0H1604M1626 0H1685M1785 0H1810M1885 0H1914M1979 0H1983"/><rect x="1114" y="-8" width="32" height="16" rx="6"/><rect x="1154" y="-8" width="152" height="16" rx="6"/><rect x="1371" y="-8" width="65" height="16" rx="6"/><rect x="1548" y="-8" width="28" height="16" rx="6"/><rect x="1645" y="-8" width="10" height="16" rx="6"/><rect x="1741" y="-8" width="31" height="16" rx="6"/></g></g>
<g id="gene-Os05g37410" transform="translate(0,1622)"><use href="#mO" x="898"/><text class="nm nb" x="911" y="9">Os05g37410</text><g class="gs gd"><line class="i" x1="1080" x2="1836"/><path class="t" d="M1082 0H1086M1356 0H1360M1493 0H1497M1522 0H1580M1660 0H1689M1760 0H1785M1832 0H1836"/><rect x="1114" y="-8" width="32" height="16" rx="6"/><rect x="1161" y="-8" width="143" height="16" rx="6"/><rect x="1370" y="-8" width="64" height="16" rx="6"/><rect x="1442" y="-8" width="25" height="16" rx="6"/><rect x="1622" y="-8" width="29" height="16" rx="6"/></g></g>
<g id="gene-AthROS1" transform="translate(0,1655)"><use href="#mA" x="898"/><text class="nm nb" x="911" y="9">AthROS1</text><g class="gs gd"><line class="i" x1="1080" x2="1572"/><path class="t" d="M1118 0H1124M1272 0H1276M1350 0H1413M1467 0H1538"/><rect x="1147" y="-8" width="82" height="16" rx="6"/><rect x="1238" y="-8" width="25" height="16" rx="6"/><rect x="1285" y="-8" width="63" height="16" rx="6"/><rect x="1430" y="-8" width="29" height="16" rx="6"/><rect x="1543" y="-8" width="20" height="16" rx="6"/><rect class="u" x="1080" y="-7" width="36" height="14"/><rect class="u" x="1565" y="-7" width="7" height="14"/></g></g>
<g id="gene-BnaROS1a" transform="translate(0,1689)"><use href="#mB" x="898"/><text class="nm nb" x="911" y="9">BnaROS1a</text><g class="gs gd"><line class="i" x1="1080" x2="1545"/><path class="t" d="M1113 0H1130M1200 0H1245M1290 0H1305M1330 0H1405M1455 0H1526"/><rect x="1136" y="-8" width="61" height="16" rx="6"/><rect x="1216" y="-8" width="10" height="16" rx="6"/><rect x="1250" y="-8" width="34" height="16" rx="6"/><rect x="1316" y="-8" width="10" height="16" rx="6"/><rect x="1413" y="-8" width="28" height="16" rx="6"/><rect class="u" x="1080" y="-7" width="31" height="14"/><rect class="u" x="1528" y="-7" width="17" height="14"/></g></g>
<g id="gene-BnaROS1b" transform="translate(0,1723)"><use href="#mB" x="898"/><text class="nm nb" x="911" y="9">BnaROS1b</text><g class="gs gd"><line class="i" x1="1080" x2="1551"/><path class="t" d="M1118 0H1138M1208 0H1212M1245 0H1253M1325 0H1405M1446 0H1528"/><rect x="1142" y="-8" width="62" height="16" rx="6"/><rect x="1214" y="-8" width="24" height="16" rx="6"/><rect x="1258" y="-8" width="51" height="16" rx="6"/><rect x="1316" y="-8" width="6" height="16" rx="6"/><rect x="1411" y="-8" width="27" height="16" rx="6"/><rect class="u" x="1080" y="-7" width="36" height="14"/><rect class="u" x="1530" y="-7" width="21" height="14"/></g></g>

<!-- protein rows (panel C) -->
<g id="prot-BnaCMTa" transform="translate(0,45)"><rect class="pb" x="2962" y="-9" width="460" height="18"/><rect class="BAH" x="3025" y="-9" width="73" height="18"/><rect class="CD" x="3155" y="-9" width="36" height="18"/><rect class="MT" x="3191" y="-9" width="222" height="18"/></g>
<g id="prot-BnaCMTb" transform="translate(0,79)"><rect class="pb" x="2966" y="-9" width="456" height="18"/><rect class="BAH" x="3027" y="-9" width="75" height="18"/><rect class="MT" x="3106" y="-9" width="31" height="18"/><rect class="CD" x="3159" y="-9" width="34" height="18"/><rect class="MT" x="3193" y="-9" width="221" height="18"/></g>
<g id="prot-AthCMT3" transform="translate(0,112)"><rect class="pb" x="2947" y="-9" width="475" height="18"/><rect class="BAH" x="3006" y="-9" width="73" height="18"/><rect class="MT" x="3098" y="-9" width="39" height="18"/><rect class="MT" x="3165" y="-9" width="238" height="18"/></g>
<g id="prot-Os03g12570" transform="translate(0,146)"><rect class="pb" x="2474" y="-9" width="948" height="18"/><rect class="BAH" x="2641" y="-9" width="67" height="18"/><rect class="MT" x="2725" y="-9" width="32" height="18"/><rect class="MT" x="2779" y="-9" width="233" height="18"/></g>
<g id="prot-Os05g13780" transform="translate(0,179)"><rect class="pb" x="2678" y="-9" width="744" height="18"/><rect class="BAH" x="3036" y="-9" width="59" height="18"/><rect class="CD" x="3169" y="-9" width="35" height="18"/><rect class="MT" x="3208" y="-9" width="201" height="18"/></g>
<g id="prot-AthCMT1" transform="translate(0,213)"><rect class="pb" x="2974" y="-9" width="448" height="18"/><rect class="BAH" x="3018" y="-9" width="66" height="18"/><rect class="CD" x="3165" y="-9" width="34" height="18"/><rect class="MT" x="3204" y="-9" width="87" height="18"/><rect class="MT" x="3308" y="-9" width="95" height="18"/></g>
<g id="prot-BnaCMTc" transform="translate(0,246)"><rect class="pb" x="2977" y="-9" width="445" height="18"/><rect class="BAH" x="3015" y="-9" width="66" height="18"/><rect class="MT" x="3096" y="-9" width="31" height="18"/><rect class="MT" x="3155" y="-9" width="99" height="18"/><rect class="MT" x="3277" y="-9" width="126" height="18"/></g>
<g id="prot-BnaCMTd" transform="translate(0,280)"><rect class="pb" x="2974" y="-9" width="448" height="18"/><rect class="BAH" x="3012" y="-9" width="69" height="18"/><rect class="MT" x="3096" y="-9" width="30" height="18"/><rect class="MT" x="3155" y="-9" width="248" height="18"/></g>
<g id="prot-AthCMT2" transform="translate(0,313)"><rect class="pb" x="2684" y="-9" width="738" height="18"/><rect class="BAH" x="3015" y="-9" width="66" height="18"/><rect class="MT" x="3102" y="-9" width="36" height="18"/><rect class="CD" x="3162" y="-9" width="31" height="18"/><rect class="MT" x="3203" y="-9" width="203" height="18"/></g>
<g id="prot-BnaCMTe" transform="translate(0,347)"><rect class="pb" x="2804" y="-9" width="618" height="18"/><rect class="BAH" x="3018" y="-9" width="63" height="18"/><rect class="MT" x="3103" y="-9" width="27" height="18"/><rect class="MT" x="3163" y="-9" width="243" height="18"/></g>
<g id="prot-BnaCMTf" transform="translate(0,381)"><rect class="pb" x="2777" y="-9" width="645" height="18"/><rect class="BAH" x="3033" y="-9" width="67" height="18"/><rect class="MT" x="3115" y="-9" width="291" height="18"/></g>
<g id="prot-BnaMET1a" transform="translate(0,414)"><rect class="pb" x="2838" y="-9" width="584" height="18"/><rect class="RFD" x="2844" y="-9" width="38" height="18"/><rect class="BAH" x="2994" y="-9" width="60" height="18"/><rect class="BAH" x="3073" y="-9" width="96" height="18"/><rect class="MT" x="3169" y="-9" width="248" height="18"/></g>
<g id="prot-BnaMET1b" transform="translate(0,448)"><rect class="pb" x="2809" y="-9" width="613" height="18"/><rect class="RFD" x="2815" y="-9" width="61" height="18"/><rect class="BAH" x="2991" y="-9" width="57" height="18"/><rect class="BAH" x="3071" y="-9" width="103" height="18"/><rect class="MT" x="3174" y="-9" width="243" height="18"/></g>
<g id="prot-AthMET1" transform="translate(0,481)"><rect class="pb" x="2550" y="-9" width="872" height="18"/><rect class="RFD" x="2598" y="-9" width="73" height="18"/><rect class="RFD" x="2767" y="-9" width="85" height="18"/><rect class="BAH" x="2963" y="-9" width="83" height="18"/><rect class="BAH" x="3061" y="-9" width="107" height="18"/><rect class="MT" x="3168" y="-9" width="246" height="18"/></g>
<g id="prot-Os03g58400" transform="translate(0,515)"><rect class="pb" x="3220" y="-9" width="202" height="18"/><rect class="MT" x="3237" y="-9" width="185" height="18"/></g>
<g id="prot-Os07g08500" transform="translate(0,548)"><rect class="pb" x="3206" y="-9" width="216" height="18"/><rect class="MT" x="3207" y="-9" width="215" height="18"/></g>
<g id="prot-BnaMET1c" transform="translate(0,582)"><rect class="pb" x="2610" y="-9" width="812" height="18"/><rect class="RFD" x="2649" y="-9" width="52" height="18"/><rect class="RFD" x="2800" y="-9" width="63" height="18"/><rect class="BAH" x="2968" y="-9" width="84" height="18"/><rect class="BAH" x="3067" y="-9" width="109" height="18"/><rect class="MT" x="3176" y="-9" width="238" height="18"/></g>
<g id="prot-BnaMET1d" transform="translate(0,615)"><rect class="pb" x="2610" y="-9" width="812" height="18"/><rect class="RFD" x="2649" y="-9" width="52" height="18"/><rect class="RFD" x="2800" y="-9" width="63" height="18"/><rect class="BAH" x="2968" y="-9" width="84" height="18"/><rect class="BAH" x="3067" y="-9" width="109" height="18"/><rect class="MT" x="3176" y="-9" width="238" height="18"/></g>
<g id="prot-BnaMET1e" transform="translate(0,649)"><rect class="pb" x="2610" y="-9" width="812" height="18"/><rect class="RFD" x="2649" y="-9" width="52" height="18"/><rect class="RFD" x="2791" y="-9" width="63" height="18"/><rect class="BAH" x="2963" y="-9" width="80" height="18"/><rect class="BAH" x="3060" y="-9" width="106" height="18"/><rect class="MT" x="3166" y="-9" width="248" height="18"/></g>
<g id="prot-BnaMET1f" transform="translate(0,683)"><rect class="pb" x="2603" y="-9" width="819" height="18"/><rect class="RFD" x="2641" y="-9" width="53" height="18"/><rect class="RFD" x="2792" y="-9" width="66" height="18"/><rect class="BAH" x="2963" y="-9" width="85" height="18"/><rect class="BAH" x="3063" y="-9" width="109" height="18"/><rect class="MT" x="3172" y="-9" width="242" height="18"/></g>
<g id="prot-Os01g42630" transform="translate(0,716)"><rect class="pb" x="3270" y="-9" width="152" height="18"/><rect class="MT" x="3273" y="-9" width="105" height="18"/></g>
<g id="prot-AthDNMT2" transform="translate(0,750)"><rect class="pb" x="3210" y="-9" width="212" height="18"/><rect class="MT" x="3216" y="-9" width="99" height="18"/><rect class="MT" x="3342" y="-9" width="80" height="18"/></g>
<g id="prot-BnaDNMT2a" transform="translate(0,783)"><rect class="pb" x="3214" y="-9" width="208" height="18"/><rect class="MT" x="3216" y="-9" width="99" height="18"/><rect class="MT" x="3336" y="-9" width="82" height="18"/></g>
<g id="prot-BnaDNMT2b" transform="translate(0,817)"><rect class="pb" x="3208" y="-9" width="214" height="18"/><rect class="MT" x="3210" y="-9" width="99" height="18"/><rect class="MT" x="3338" y="-9" width="82" height="18"/></g>
<g id="prot-BnaDRMa" transform="translate(0,850)"><rect class="pb" x="2934" y="-9" width="488" height="18"/></g>
<g id="prot-BnaDRMb" transform="translate(0,884)"><rect class="pb" x="3021" y="-9" width="401" height="18"/></g>
<g id="prot-Os05g04330" transform="translate(0,917)"><rect class="pb" x="3037" y="-9" width="385" height="18"/><rect class="MT" x="3342" y="-9" width="59" height="18"/></g>
<g id="prot-Os03g02010" transform="translate(0,951)"><rect class="pb" x="3132" y="-9" width="290" height="18"/><rect class="MT" x="3350" y="-9" width="72" height="18"/></g>
<g id="prot-Os11g01810" transform="translate(0,984)"><rect class="pb" x="3157" y="-9" width="265" height="18"/><rect class="MT" x="3330" y="-9" width="79" height="18"/></g>
<g id="prot-Os12g01800" transform="translate(0,1018)"><rect class="pb" x="3179" y="-9" width="243" height="18"/><rect class="UBA" x="3243" y="-9" width="21" height="18"/></g>
<g id="prot-BnaDRMc" transform="translate(0,1052)"><rect class="pb" x="2889" y="-9" width="533" height="18"/><rect class="UBA" x="2939" y="-9" width="14" height="18"/><rect class="UBA" x="2968" y="-9" width="16" height="18"/><rect class="UBA" x="3018" y="-9" width="19" height="18"/><rect class="MT" x="3187" y="-9" width="71" height="18"/></g>
<g id="prot-BnaDRMd" transform="translate(0,1085)"><rect class="pb" x="3061" y="-9" width="361" height="18"/><rect class="UBA" x="3092" y="-9" width="13" height="18"/><rect class="UBA" x="3121" y="-9" width="17" height="18"/><rect class="MT" x="3350" y="-9" width="70" height="18"/></g>
<g id="prot-AthDRM1" transform="translate(0,1119)"><rect class="pb" x="3067" y="-9" width="355" height="18"/><rect class="UBA" x="3176" y="-9" width="19" height="18"/><rect class="MT" x="3347" y="-9" width="71" height="18"/></g>
<g id="prot-AthDRM2" transform="translate(0,1152)"><rect class="pb" x="3067" y="-9" width="355" height="18"/><rect class="UBA" x="3176" y="-9" width="19" height="18"/><rect class="MT" x="3347" y="-9" width="71" height="18"/></g>
<g id="prot-BnaDRMe" transform="translate(0,1186)"><rect class="pb" x="3105" y="-9" width="317" height="18"/><rect class="UBA" x="3180" y="-9" width="21" height="18"/><rect class="MT" x="3347" y="-9" width="69" height="18"/></g>
<g id="prot-BnaDRMf" transform="translate(0,1219)"><rect class="pb" x="3109" y="-9" width="313" height="18"/><rect class="UBA" x="3183" y="-9" width="21" height="18"/><rect class="MT" x="3350" y="-9" width="70" height="18"/></g>
<g id="prot-BnaDRMg" transform="translate(0,1253)"><rect class="pb" x="3170" y="-9" width="252" height="18"/><rect class="UBA" x="3180" y="-9" width="17" height="18"/><rect class="MT" x="3348" y="-9" width="70" height="18"/></g>
<g id="prot-BnaDRMh" transform="translate(0,1286)"><rect class="pb" x="3109" y="-9" width="313" height="18"/><rect class="UBA" x="3179" y="-9" width="21" height="18"/><rect class="MT" x="3351" y="-9" width="71" height="18"/></g>
<g id="prot-AthDML3" transform="translate(0,1320)"><rect class="pb" x="2831" y="-9" width="591" height="18"/><rect class="END" x="3134" y="-9" width="93" height="18"/><rect class="PRM" x="3336" y="-9" width="19" height="18"/><rect class="DG" x="3355" y="-9" width="58" height="18"/></g>
<g id="prot-BnaDML3a" transform="translate(0,1354)"><rect class="pb" x="2812" y="-9" width="610" height="18"/><rect class="END" x="3117" y="-9" width="111" height="18"/><rect class="PRM" x="3333" y="-9" width="22" height="18"/><rect class="DG" x="3355" y="-9" width="58" height="18"/></g>
<g id="prot-BnaDML3b" transform="translate(0,1387)"><rect class="pb" x="2750" y="-9" width="672" height="18"/><rect class="END" x="3105" y="-9" width="115" height="18"/><rect class="PRM" x="3336" y="-9" width="19" height="18"/><rect class="DG" x="3355" y="-9" width="63" height="18"/></g>
<g id="prot-AthDME" transform="translate(0,1421)"><rect class="pb" x="2310" y="-9" width="1112" height="18"/><rect class="END" x="3134" y="-9" width="88" height="18"/><rect class="PRM" x="3336" y="-9" width="19" height="18"/><rect class="DG" x="3355" y="-9" width="63" height="18"/></g>
<g id="prot-BnaDMEa" transform="translate(0,1454)"><rect class="pb" x="2367" y="-9" width="1055" height="18"/><rect class="END" x="3132" y="-9" width="101" height="18"/><rect class="PRM" x="3340" y="-9" width="19" height="18"/><rect class="DG" x="3359" y="-9" width="59" height="18"/></g>
<g id="prot-BnaDMEb" transform="translate(0,1488)"><rect class="pb" x="2453" y="-9" width="969" height="18"/><rect class="END" x="3128" y="-9" width="99" height="18"/><rect class="PRM" x="3336" y="-9" width="17" height="18"/><rect class="DG" x="3353" y="-9" width="64" height="18"/></g>
<g id="prot-AthDML2" transform="translate(0,1521)"><rect class="pb" x="2663" y="-9" width="759" height="18"/><rect class="END" x="3126" y="-9" width="69" height="18"/><rect class="FES" x="3216" y="-9" width="11" height="18"/><rect class="PRM" x="3336" y="-9" width="19" height="18"/><rect class="DG" x="3355" y="-9" width="58" height="18"/></g>
<g id="prot-Os01g11900" transform="translate(0,1555)"><rect class="pb" x="2325" y="-9" width="1097" height="18"/><rect class="END" x="3128" y="-9" width="92" height="18"/><rect class="PRM" x="3332" y="-9" width="16" height="18"/><rect class="DG" x="3348" y="-9" width="57" height="18"/></g>
<g id="prot-Os05g37350" transform="translate(0,1588)"><rect class="pb" x="2378" y="-9" width="1044" height="18"/><rect class="END" x="3128" y="-9" width="101" height="18"/><rect class="DG" x="3353" y="-9" width="54" height="18"/></g>
<g id="prot-Os05g37410" transform="translate(0,1622)"><rect class="pb" x="2390" y="-9" width="1032" height="18"/><rect class="END" x="3116" y="-9" width="111" height="18"/><rect class="DG" x="3354" y="-9" width="55" height="18"/></g>
<g id="prot-AthROS1" transform="translate(0,1655)"><rect class="pb" x="2636" y="-9" width="786" height="18"/><rect class="END" x="3134" y="-9" width="98" height="18"/><rect class="PRM" x="3343" y="-9" width="12" height="18"/><rect class="DG" x="3355" y="-9" width="63" height="18"/></g>
<g id="prot-BnaROS1a" transform="translate(0,1689)"><rect class="pb" x="2683" y="-9" width="739" height="18"/><rect class="END" x="3153" y="-9" width="84" height="18"/><rect class="PRM" x="3338" y="-9" width="17" height="18"/><rect class="DG" x="3355" y="-9" width="63" height="18"/></g>
<g id="prot-BnaROS1b" transform="translate(0,1723)"><rect class="pb" x="2670" y="-9" width="752" height="18"/><rect class="END" x="3136" y="-9" width="96" height="18"/><rect class="PRM" x="3336" y="-9" width="19" height="18"/><rect class="DG" x="3355" y="-9" width="60" height="18"/></g>

<!-- axes -->
<g id="axis-b">
<line class="ax" x1="1075" y1="1752" x2="2165" y2="1752"/>
<path class="tk" d="M1082 1744V1752M1154 1744V1752M1226 1744V1752M1298 1744V1752M1369 1744V1752M1441 1744V1752M1513 1744V1752M1585 1744V1752M1657 1744V1752M1729 1744V1752M1801 1744V1752M1873 1744V1752M1944 1744V1752M2016 1744V1752M2088 1744V1752M2160 1744V1752"/>
<text class="al" x="1082" y="1775">0kb</text><text class="al" x="1154" y="1775">1kb</text><text class="al" x="1226" y="1775">2kb</text><text class="al" x="1298" y="1775">3kb</text><text class="al" x="1369" y="1775">4kb</text><text class="al" x="1441" y="1775">5kb</text><text class="al" x="1513" y="1775">6kb</text><text class="al" x="1585" y="1775">7kb</text><text class="al" x="1657" y="1775">8kb</text><text class="al" x="1729" y="1775">9kb</text><text class="al" x="1801" y="1775">10kb</text><text class="al" x="1873" y="1775">11kb</text><text class="al" x="1944" y="1775">12kb</text><text class="al" x="2016" y="1775">13kb</text><text class="al" x="2088" y="1775">14kb</text><text class="al" x="2160" y="1775">15kb</text>
</g>
<g id="axis-c">
<line class="ax" x1="2288" y1="1752" x2="3424" y2="1752"/>
<path class="tk" d="M2293 1742V1752M2349 1742V1752M2406 1742V1752M2462 1742V1752M2518 1742V1752M2575 1742V1752M2631 1742V1752M2687 1742V1752M2744 1742V1752M2800 1742V1752M2856 1742V1752M2913 1742V1752M2969 1742V1752M3025 1742V1752M3082 1742V1752M3138 1742V1752M3194 1742V1752M3251 1742V1752M3307 1742V1752M3363 1742V1752M3420 1742V1752"/>
<text x="2272" y="1757" font-size="20" fill="#333" text-anchor="middle">N</text>
<text x="3438" y="1760" font-size="22" fill="#333" text-anchor="middle">C</text>
<text class="ac" x="2238" y="1778" font-size="22">aa</text>
<text class="ac" x="2293" y="1778">2000</text><text class="ac" x="2575" y="1778">1500</text><text class="ac" x="2856" y="1778">1000</text><text class="ac" x="3138" y="1778">500</text><text class="ac" x="3420" y="1778">0</text>
</g>
<!-- legends -->
<g id="legend-a">
<path d="M47 1760L62 1787H32Z" fill="#35d435"/>
<text class="la" x="70" y="1790">Arabidopsis thaliana</text>
<circle cx="459" cy="1775" r="13" fill="#e8141c"/>
<text class="la" x="481" y="1790">Brassica napus L.</text>
<path d="M838 1758L851 1773 838 1788 825 1773Z" fill="#1010c8"/>
<text class="la" x="862" y="1790">Oryza sativa</text>
</g>
<g id="legend-b">
<rect x="1096" y="1815" width="54" height="28" rx="12" fill="#2e8a2e"/>
<text class="lb" x="1158" y="1843">CDS</text>
<rect x="1298" y="1816" width="58" height="26" fill="#8a1a8a"/>
<text class="lb" x="1367" y="1843">up/downstream</text>
<line x1="1685" y1="1827" x2="1739" y2="1827" stroke="#444" stroke-width="3"/>
<text class="lb" x="1751" y="1843">Intron</text>
</g>
<g id="legend-c">
<rect x="2361" y="1782" width="62" height="30" fill="#f5f21c"/><text class="lc" x="2431" y="1808">UBA</text>
<rect x="2540" y="1782" width="61" height="30" fill="#e07f32"/><text class="lc" x="2613" y="1808">END03c</text>
<rect x="2754" y="1782" width="61" height="30" fill="#7d9d48"/><text class="lc" x="2829" y="1808">FES</text>
<rect x="2930" y="1782" width="61" height="30" fill="#5c4b82"/><text class="lc" x="3008" y="1808">Perm</text>
<rect x="3120" y="1782" width="62" height="30" fill="#ec2525"/><text class="lc" x="3195" y="1808">DNA glycoslyases</text>
<rect x="2361" y="1837" width="62" height="30" fill="#a9d2e2"/><text class="lc" x="2431" y="1863">BAH</text>
<rect x="2540" y="1837" width="61" height="30" fill="#d9a3a0"/><text class="lc" x="2613" y="1863">CD</text>
<rect x="2713" y="1837" width="62" height="30" fill="#7e3fb0"/><text class="lc" x="2789" y="1863">MTASE</text>
<rect x="2911" y="1837" width="61" height="30" fill="#18b0ea"/><text class="lc" x="2990" y="1863">DNMT-RFD</text>
</g>
</svg>
